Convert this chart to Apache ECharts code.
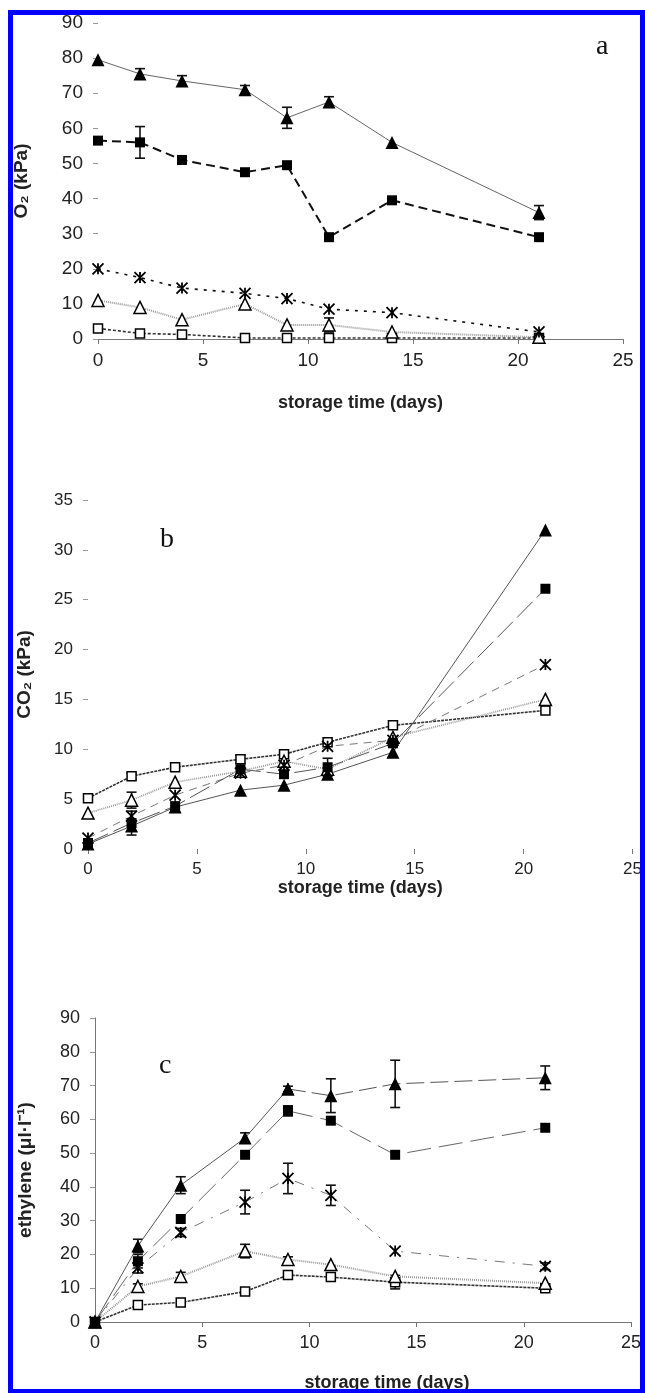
<!DOCTYPE html>
<html><head><meta charset="utf-8">
<script src="https://cdn.jsdelivr.net/npm/echarts@6/dist/echarts.min.js"></script>
<style>html,body{margin:0;padding:0;background:#fff}#c{width:645px;height:1393px}</style>
</head><body><div id="c"></div>
<script>
// ---- data ----
const days = [0, 2, 4, 7, 9, 11, 14, 21];
const xTicks = [0, 5, 10, 15, 20, 25];

// panel a: O2 (kPa)
const o2FilledTri = [79.5, 75.5, 73.5, 71, 63, 67.5, 56, 36];
const o2FilledTriErr = [0, 1.5, 1.5, 1.2, 3, 1.5, 0, 2];
const o2FilledSq = [56.5, 56, 51, 47.5, 49.5, 29, 39.5, 29];
const o2FilledSqErr = [0, 4.5, 0, 0, 0, 0, 0, 0];
const o2Cross = [20, 17.5, 14.5, 13, 11.5, 8.5, 7.5, 2];
const o2OpenTri = [11, 9, 5.5, 10, 4, 4, 2, 0.5];
const o2OpenTriErr = [0, 0, 0, 0, 0, 2, 0, 0];
const o2OpenSq = [3, 1.6, 1.3, 0.3, 0.3, 0.3, 0.3, 0.3];

// panel b: CO2 (kPa)
const co2FilledTri = [0.5, 2.3, 4.2, 5.9, 6.4, 7.5, 9.7, 32];
const co2FilledSq = [0.6, 2.6, 4.3, 8.0, 7.5, 8.2, 10.6, 26.1];
const co2FilledSqErr = [0, 1.2, 0, 0, 0, 0.9, 0, 0];
const co2Cross = [1.1, 3.3, 5.4, 7.6, 8.4, 10.3, 10.9, 18.5];
const co2OpenTri = [3.6, 4.9, 6.7, 7.8, 8.8, 8.0, 11.2, 15];
const co2OpenTriErr = [0, 0.8, 0, 0, 0, 0, 0, 0];
const co2OpenSq = [5.1, 7.3, 8.2, 9.0, 9.5, 10.7, 12.4, 13.9];
const co2OpenSqErr = [0, 0.3, 0, 0.4, 0, 0, 0, 0];

// panel c: ethylene (µl·l-1)
const ethFilledTri = [0, 22.5, 40.5, 54.5, 69, 67, 70.5, 72.3];
const ethFilledTriErr = [0, 2, 2.5, 1.5, 0.8, 5, 7, 3.5];
const ethFilledSq = [0, 18, 30.5, 49.5, 62.5, 59.6, 49.5, 57.5];
const ethFilledSqErr = [0, 2, 0, 0, 1.5, 0, 0, 0];
const ethCross = [0, 16, 26.5, 35.5, 42.5, 37.5, 21, 16.5];
const ethCrossErr = [0, 1.5, 1.2, 3.5, 4.5, 3, 0, 1];
const ethOpenTri = [0, 10.5, 13.5, 21, 18.5, 17, 13.5, 11.5];
const ethOpenTriErr = [0, 0.8, 1.2, 2, 0.8, 0, 0, 0];
const ethOpenSq = [0, 5, 5.8, 9, 13.9, 13.3, 11.8, 10];
const ethOpenSqErr = [0, 0, 0, 0.8, 0, 0, 2, 0.5];

// ---- helpers ----
const FONT = 'Liberation Sans, Arial, sans-serif';
const CROSS = 'path://M0,0L10,10M10,0L0,10M5,0L5,10';
const pts = (vals, from, to) => days.map((d, i) => [d, vals[i]]).slice(from || 0, to === undefined ? days.length : to);

const styles = {
  fTri: {symbol: 'triangle', symbolSize: 13, item: {color: '#000'}},
  fSq: {symbol: 'rect', symbolSize: 10, item: {color: '#000'}},
  cross: {symbol: CROSS, symbolSize: 11, item: {color: 'none', borderColor: '#000', borderWidth: 1.8}},
  oTri: {symbol: 'triangle', symbolSize: 12, item: {color: '#fff', borderColor: '#000', borderWidth: 1.5}},
  oSq: {symbol: 'rect', symbolSize: 9, item: {color: '#fff', borderColor: '#000', borderWidth: 1.5}}
};

function line(g, vals, kind, lineStyle, from, to) {
  const s = styles[kind];
  return {
    type: 'line', xAxisIndex: g, yAxisIndex: g, data: pts(vals, from, to),
    symbol: s.symbol, symbolSize: s.symbolSize, showSymbol: true,
    itemStyle: s.item, lineStyle: lineStyle, z: 4, animation: false, silent: true
  };
}

function errs(g, vals, e) {
  const data = [];
  days.forEach((d, i) => { if (e[i] > 0) data.push([d, vals[i] - e[i], vals[i] + e[i]]); });
  return {
    type: 'custom', xAxisIndex: g, yAxisIndex: g, data: data, z: 3, animation: false, silent: true,
    encode: {x: 0, y: [1, 2]},
    renderItem: function (params, api) {
      const x = api.value(0);
      const lo = api.coord([x, api.value(1)]);
      const hi = api.coord([x, api.value(2)]);
      const w = 5, st = {stroke: '#111', lineWidth: 1.6};
      return {type: 'group', children: [
        {type: 'line', shape: {x1: lo[0], y1: lo[1], x2: hi[0], y2: hi[1]}, style: st},
        {type: 'line', shape: {x1: lo[0] - w, y1: lo[1], x2: lo[0] + w, y2: lo[1]}, style: st},
        {type: 'line', shape: {x1: hi[0] - w, y1: hi[1], x2: hi[0] + w, y2: hi[1]}, style: st}
      ]};
    }
  };
}

function xAxis(g, showLine, nameGap, namePad, fs) {
  return {
    type: 'value', gridIndex: g, min: 0, max: 25, interval: 5,
    axisLine: {show: showLine, lineStyle: {color: '#777', width: 1}},
    axisTick: {show: true, length: 5, lineStyle: {color: '#777'}},
    splitLine: {show: false},
    axisLabel: {color: '#222', fontFamily: FONT, fontSize: fs, margin: 12},
    name: 'storage time (days)', nameLocation: 'middle', nameGap: nameGap,
    nameTextStyle: {color: '#222', fontFamily: FONT, fontSize: 18, fontWeight: 'bold', padding: namePad}
  };
}
function yAxis(g, max, interval, name, showLine, nameGap, fs) {
  return {
    type: 'value', gridIndex: g, min: 0, max: max, interval: interval,
    axisLine: {show: showLine, onZero: false, lineStyle: {color: '#777', width: 1}},
    axisTick: {show: true, length: 5, lineStyle: {color: '#999'}},
    splitLine: {show: false},
    axisLabel: {color: '#222', fontFamily: FONT, fontSize: fs, margin: 15},
    name: name, nameLocation: 'middle', nameGap: nameGap,
    nameTextStyle: {color: '#222', fontFamily: FONT, fontSize: 19, fontWeight: 'bold'}
  };
}

const series = [
  // panel a
  errs(0, o2FilledTri, o2FilledTriErr),
  errs(0, o2FilledSq, o2FilledSqErr),
  errs(0, o2OpenTri, o2OpenTriErr),
  line(0, o2OpenSq, 'oSq', {color: '#333', width: 1.6, type: [3, 2]}),
  line(0, o2OpenTri, 'oTri', {color: '#999', width: 2, type: [1, 1]}),
  line(0, o2Cross, 'cross', {color: '#111', width: 1.6, type: [3, 6]}),
  line(0, o2FilledSq, 'fSq', {color: '#111', width: 2, type: [9, 5]}),
  line(0, o2FilledTri, 'fTri', {color: '#666', width: 1, type: 'solid'}),
  // panel b
  errs(1, co2FilledSq, co2FilledSqErr),
  errs(1, co2OpenTri, co2OpenTriErr),
  errs(1, co2OpenSq, co2OpenSqErr),
  line(1, co2OpenSq, 'oSq', {color: '#333', width: 1.6, type: [3, 1]}),
  line(1, co2OpenTri, 'oTri', {color: '#999', width: 1.8, type: [1, 1]}),
  line(1, co2Cross, 'cross', {color: '#777', width: 1, type: [8, 6]}),
  line(1, co2FilledSq, 'fSq', {color: '#555', width: 1, type: [22, 6]}),
  line(1, co2FilledTri, 'fTri', {color: '#555', width: 1, type: 'solid'}),
  // panel c
  errs(2, ethFilledTri, ethFilledTriErr),
  errs(2, ethFilledSq, ethFilledSqErr),
  errs(2, ethCross, ethCrossErr),
  errs(2, ethOpenTri, ethOpenTriErr),
  errs(2, ethOpenSq, ethOpenSqErr),
  line(2, ethOpenSq, 'oSq', {color: '#333', width: 1.6, type: [3, 1]}),
  line(2, ethOpenTri, 'oTri', {color: '#999', width: 2, type: [1, 1]}),
  line(2, ethCross, 'cross', {color: '#777', width: 1, type: [10, 8, 2, 8]}),
  line(2, ethFilledSq, 'fSq', {color: '#666', width: 1, type: [24, 8]}),
  line(2, ethFilledTri, 'fTri', {color: '#555', width: 1, type: 'solid'}, 0, 5),
  line(2, ethFilledTri, 'fTri', {color: '#555', width: 1, type: [18, 6]}, 4)
];

const chart = echarts.init(document.getElementById('c'), null, {renderer: 'canvas'});
chart.setOption({
  backgroundColor: '#fff',
  animation: false,
  grid: [
    {left: 98, top: 23, width: 525, height: 316},
    {left: 88, top: 500, width: 548, height: 349},
    {left: 95, top: 1018, width: 536, height: 308}
  ],
  xAxis: [xAxis(0, true, 55, [0, 0, 0, 0], 19), xAxis(1, false, 26, [0, 0, 0, 0], 17), xAxis(2, true, 52, [0, 0, 0, 48], 18)],
  yAxis: [
    yAxis(0, 90, 10, 'O\u2082 (kPa)', false, 67, 19),
    yAxis(1, 35, 5, 'CO\u2082 (kPa)', false, 54, 17),
    yAxis(2, 90, 10, 'ethylene (\u03bcl\u00b7l\u207b\u00b9)', true, 60, 18)
  ],
  series: series,
  graphic: [
    {type: 'text', left: 596, top: 33, z: 50, style: {text: 'a', font: '28px "Liberation Serif", serif', fill: '#111'}},
    {type: 'text', left: 160, top: 526, z: 50, style: {text: 'b', font: '28px "Liberation Serif", serif', fill: '#111'}},
    {type: 'text', left: 159, top: 1052, z: 50, style: {text: 'c', font: '28px "Liberation Serif", serif', fill: '#111'}},
    {type: 'rect', z: 100, shape: {x: 10.5, y: 12.5, width: 632, height: 1379}, style: {fill: 'none', stroke: '#0000ff', lineWidth: 5}}
  ]
});
</script></body></html>
